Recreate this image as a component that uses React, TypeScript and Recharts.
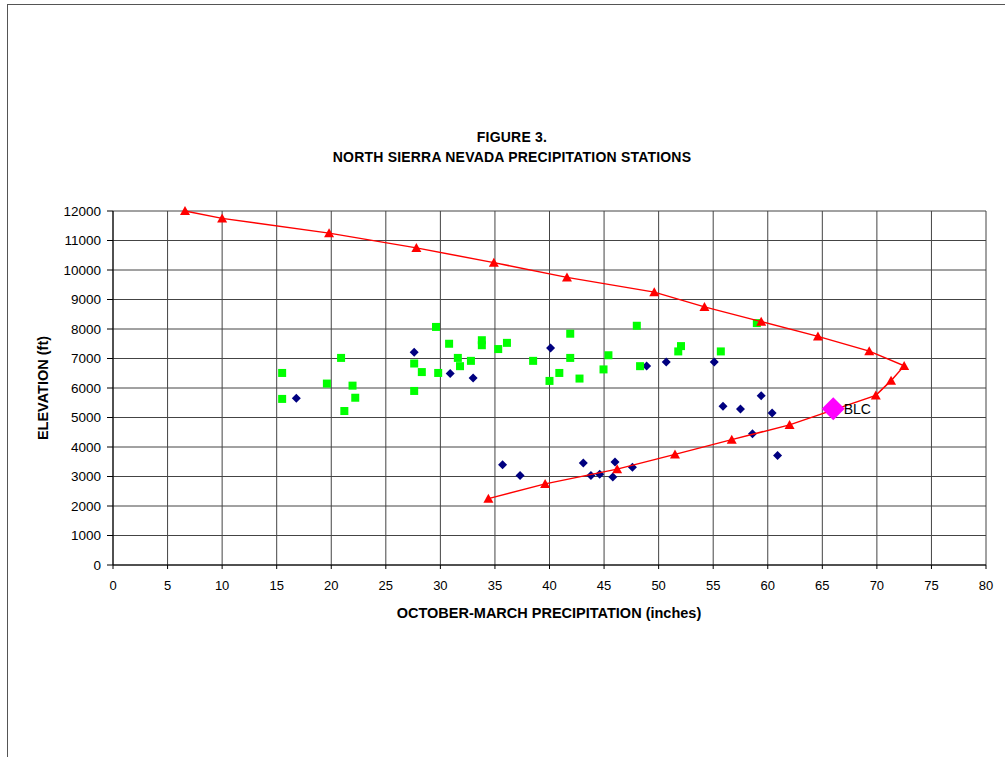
import {
  CartesianGrid,
  LabelList,
  Scatter,
  ScatterChart,
  XAxis,
  YAxis,
} from "recharts";

// Navy diamonds: precipitation (in) vs elevation (ft)
const navyX = [16.8, 27.6, 30.9, 33.0, 40.1, 48.9, 50.7, 55.1, 59.4, 55.9, 57.5, 60.4, 58.6, 60.9, 35.7, 37.3, 43.1, 43.8, 44.6, 45.8, 46.0, 47.6];
const navyY = [5650, 7210, 6490, 6340, 7360, 6750, 6880, 6880, 5740, 5380, 5290, 5150, 4450, 3710, 3400, 3030, 3460, 3030, 3075, 2985, 3490, 3310];

// Green squares
const greenX = [15.5, 15.5, 19.6, 20.9, 21.2, 21.95, 22.2, 27.6, 28.3, 27.6, 29.6, 29.8, 30.8, 31.6, 31.8, 32.8, 33.8, 33.8, 35.3, 36.1, 38.5, 40.0, 40.9, 41.9, 41.9, 42.75, 44.95, 45.4, 48.0, 48.3, 51.8, 52.05, 55.7, 59.0];
const greenY = [6510, 5630, 6150, 7020, 5220, 6080, 5670, 6830, 6540, 5900, 8070, 6510, 7500, 7020, 6740, 6920, 7620, 7450, 7320, 7530, 6920, 6240, 6510, 7840, 7020, 6320, 6630, 7110, 8110, 6740, 7240, 7420, 7240, 8200];

// Red envelope line (top branch, then lower branch)
const redX = [6.6, 10.0, 19.8, 27.8, 34.9, 41.6, 49.6, 54.2, 59.4, 64.6, 69.3, 72.5, 71.3, 69.9, 62.0, 56.7, 51.5, 46.2, 39.6, 34.4];
const redY = [12000, 11750, 11250, 10750, 10250, 9750, 9250, 8750, 8250, 7750, 7250, 6750, 6250, 5750, 4750, 4250, 3750, 3250, 2750, 2250];

const blcX = [66.0];
const blcY = [5300];
const blcNames = ["BLC"];

const xTicks = [0, 5, 10, 15, 20, 25, 30, 35, 40, 45, 50, 55, 60, 65, 70, 75, 80];
const yTicks = [0, 1000, 2000, 3000, 4000, 5000, 6000, 7000, 8000, 9000, 10000, 11000, 12000];

const navy = navyX.map((x, i) => ({ x, y: navyY[i] }));
const green = greenX.map((x, i) => ({ x, y: greenY[i] }));
const red = redX.map((x, i) => ({ x, y: redY[i] }));
const blc = blcX.map((x, i) => ({ x, y: blcY[i], name: blcNames[i] }));

const FONT = "'Liberation Sans', Arial, sans-serif";

const Diamond = (r: number, fill: string) => (p: any) => (
  <path
    d={`M${p.cx},${p.cy - r}L${p.cx + r},${p.cy}L${p.cx},${p.cy + r}L${p.cx - r},${p.cy}Z`}
    fill={fill}
  />
);

const Square = (p: any) => (
  <rect x={p.cx - 4} y={p.cy - 4} width={8} height={8} fill="#00ff00" />
);

const Triangle = (p: any) => (
  <path
    d={`M${p.cx},${p.cy - 5}L${p.cx + 5},${p.cy + 4}L${p.cx - 5},${p.cy + 4}Z`}
    fill="#ff0000"
  />
);

export default function App() {
  return (
    <div
      style={{
        position: "absolute",
        left: 0,
        top: 0,
        width: 1005,
        height: 757,
        background: "#fff",
        fontFamily: FONT,
      }}
    >
      <div
        style={{
          position: "absolute",
          left: 7,
          top: 4,
          width: 997,
          height: 753,
          borderTop: "1.5px solid #555",
          borderLeft: "1.5px solid #555",
        }}
      />
      <div
        style={{
          position: "absolute",
          left: 0,
          width: 1024,
          top: 127,
          textAlign: "center",
          fontSize: 14,
          letterSpacing: 0.2,
          fontWeight: "bold",
          lineHeight: "20px",
          color: "#000",
        }}
      >
        FIGURE 3.
        <br />
        NORTH SIERRA NEVADA PRECIPITATION STATIONS
      </div>
      <div
        style={{
          position: "absolute",
          left: 549 - 250,
          width: 500,
          top: 605,
          textAlign: "center",
          fontSize: 14.5,
          fontWeight: "bold",
          color: "#000",
        }}
      >
        OCTOBER-MARCH PRECIPITATION (inches)
      </div>
      <div
        style={{
          position: "absolute",
          left: 43 - 100,
          top: 388 - 10,
          width: 200,
          height: 20,
          lineHeight: "20px",
          textAlign: "center",
          fontSize: 14.5,
          fontWeight: "bold",
          color: "#000",
          transform: "rotate(-90deg)",
        }}
      >
        ELEVATION (ft)
      </div>
      <div style={{ position: "absolute", left: 0, top: 0 }}>
        <ScatterChart
          width={1005}
          height={757}
          margin={{ top: 211, right: 19, bottom: 162, left: 53 }}
        >
          <CartesianGrid stroke="#444" strokeWidth={1} />
          <XAxis
            type="number"
            dataKey="x"
            domain={[0, 80]}
            ticks={xTicks}
            interval={0}
            height={30}
            tickSize={4}
            tickMargin={12}
            stroke="#000"
            tick={{ fill: "#000", fontSize: 13, fontFamily: FONT }}
          />
          <YAxis
            type="number"
            dataKey="y"
            domain={[0, 12000]}
            ticks={yTicks}
            interval={0}
            width={60}
            tickSize={6}
            tickMargin={6}
            stroke="#000"
            tick={{ fill: "#000", fontSize: 13.5, fontFamily: FONT }}
          />
          <Scatter data={navy} shape={Diamond(4.5, "#000080")} isAnimationActive={false} />
          <Scatter data={green} shape={Square} isAnimationActive={false} />
          <Scatter
            data={red}
            shape={Triangle}
            line={{ stroke: "#ff0000", strokeWidth: 1.5 }}
            lineType="joint"
            isAnimationActive={false}
          />
          <Scatter data={blc} shape={Diamond(11.5, "#ff00ff")} isAnimationActive={false}>
            <LabelList
              dataKey="name"
              position="right"
              offset={6}
              fill="#000"
              fontSize={14}
              fontFamily={FONT}
            />
          </Scatter>
        </ScatterChart>
      </div>
    </div>
  );
}
